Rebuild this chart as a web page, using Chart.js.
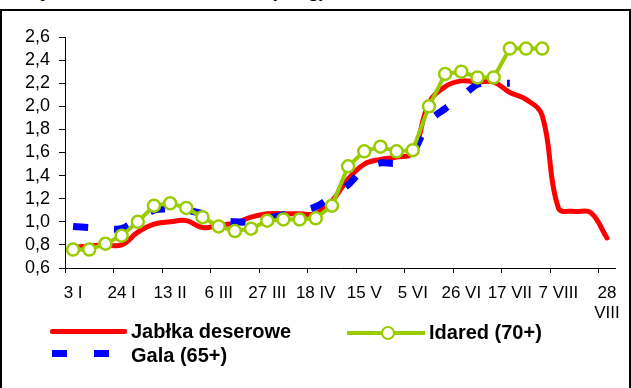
<!DOCTYPE html>
<html lang="pl">
<head>
<meta charset="utf-8">
<script src="https://cdn.jsdelivr.net/npm/chart.js@4/dist/chart.umd.min.js"></script>
<style>
  html, body { margin: 0; padding: 0; background: #fff; }
  body { width: 631px; height: 388px; position: relative; overflow: hidden;
         font-family: 'Liberation Sans', Arial, sans-serif; color: #000; }
  #title { position: absolute; left: 4px; top: -20px; font-size: 19px; font-weight: bold;
           line-height: 22px; white-space: nowrap; word-spacing: 12px; }
  #frame { position: absolute; left: 0; top: 9px; width: 631px; height: 420px;
           box-sizing: border-box; border: 2px solid #000; background: #fff; }
  #chart { position: absolute; left: 0; top: 0; }
  .leg { position: absolute; }
  .leg-text { position: absolute; font-size: 20px; font-weight: bold; line-height: 22px; white-space: nowrap; }
</style>
</head>
<body>
<div id="title">Ceny średnie w obrocie (zł/kg)</div>
<div id="frame"></div>
<canvas id="chart" width="631" height="388"></canvas>

<!-- legend: two columns like the source, drawn in the DOM -->
<div class="leg" style="left:50px; top:329px; width:77px; height:5px; background:#FF0000; border-radius:2px;"></div>
<div class="leg-text" style="left:131px; top:320px;">Jabłka deserowe</div>
<div class="leg" style="left:347px; top:331px; width:78px; height:4px; background:#99CC00;"></div>
<div class="leg" style="left:381px; top:326px; width:10px; height:10px; border:2.5px solid #99CC00; border-radius:50%; background:#fff;"></div>
<div class="leg-text" style="left:429px; top:321px;">Idared (70+)</div>
<div class="leg" style="left:52px; top:350px; width:15px; height:7px; background:#0000FF;"></div>
<div class="leg" style="left:94px; top:350px; width:15px; height:7px; background:#0000FF;"></div>
<div class="leg-text" style="left:131px; top:344px;">Gala (65+)</div>

<script>
const COLOR_RED = '#FF0000';
const COLOR_BLUE = '#0000FF';
const COLOR_GREEN = '#99CC00';
const FONT_FAMILY = "'Liberation Sans', Arial, sans-serif";

// one label every third week
const tickLabels = ['3 I', '24 I', '13 II', '6 III', '27 III', '18 IV', '15 V', '5 VI',
  '26 VI', '17 VII', '7 VIII', ['28', 'VIII']];

// weekly prices, zł/kg
const deserowe = [0.78, 0.79, 0.80, 0.80, 0.91, 0.98, 1.00, 1.01, 0.95, 0.97, 0.99, 1.04,
  1.07, 1.07, 1.07, 1.07, 1.18, 1.37, 1.50, 1.54, 1.56, 1.60, 2.03, 2.17, 2.22, 2.21,
  2.21, 2.12, 2.06, 1.92, 1.12, 1.09, 1.08, 0.86];
const gala = [0.96, 0.95, 0.94, 0.94, 1.02, 1.10, 1.11, 1.10, 1.07, 1.02, 1.00, 1.00,
  1.03, 1.06, 1.09, 1.13, 1.22, 1.32, 1.46, 1.51, 1.51, 1.60, 1.87, 1.98, 2.08, 2.19,
  2.20, 2.20];
const idared = [0.76, 0.76, 0.81, 0.88, 1.00, 1.14, 1.16, 1.12, 1.04, 0.96, 0.92, 0.94,
  1.01, 1.02, 1.02, 1.03, 1.14, 1.48, 1.61, 1.65, 1.61, 1.62, 2.00, 2.28, 2.30, 2.25,
  2.25, 2.50, 2.50, 2.50];

const labels = deserowe.map((_, i) => (i % 3 === 0 ? tickLabels[i / 3] : ''));

const tickFont = (size) => ({ family: FONT_FAMILY, size });

new Chart(document.getElementById('chart'), {
  type: 'line',
  data: {
    labels,
    datasets: [
      {
        label: 'Idared (70+)',
        data: idared,
        borderColor: COLOR_GREEN,
        backgroundColor: '#fff',
        borderWidth: 4,
        tension: 0,
        pointRadius: 6,
        pointBorderWidth: 2.5,
        pointBackgroundColor: '#fff',
        pointBorderColor: COLOR_GREEN
      },
      {
        label: 'Gala (65+)',
        data: gala,
        borderColor: COLOR_BLUE,
        borderWidth: 7,
        borderDash: [15, 26],
        borderCapStyle: 'butt',
        tension: 0.3,
        pointRadius: 0
      },
      {
        label: 'Jabłka deserowe',
        data: deserowe,
        borderColor: COLOR_RED,
        borderWidth: 5,
        borderCapStyle: 'round',
        tension: 0.4,
        pointRadius: 0
      }
    ]
  },
  options: {
    responsive: false,
    animation: false,
    events: [],
    layout: { padding: { top: 37, right: 16, bottom: 70, left: 0 } },
    plugins: { legend: { display: false }, tooltip: { enabled: false } },
    scales: {
      x: {
        offset: true,
        grid: {
          offset: true,
          drawOnChartArea: false,
          tickLength: 5,
          color: (ctx) => (ctx.index % 3 === 0 ? '#000' : 'rgba(0,0,0,0)')
        },
        border: { display: true, color: '#000', width: 1 },
        ticks: {
          autoSkip: false,
          maxRotation: 0,
          padding: 10,
          color: '#000',
          font: tickFont(17)
        },
        afterFit: (scale) => { scale.height = 50; }
      },
      y: {
        min: 0.6,
        max: 2.6,
        grid: { drawOnChartArea: false, tickLength: 6, color: '#000' },
        border: { display: true, color: '#000', width: 1 },
        ticks: {
          autoSkip: false,
          stepSize: 0.2,
          padding: 9,
          color: '#000',
          font: tickFont(18),
          callback: (v) => v.toFixed(1).replace('.', ',')
        },
        afterFit: (scale) => { scale.width = 65; }
      }
    }
  }
});
</script>
</body>
</html>
